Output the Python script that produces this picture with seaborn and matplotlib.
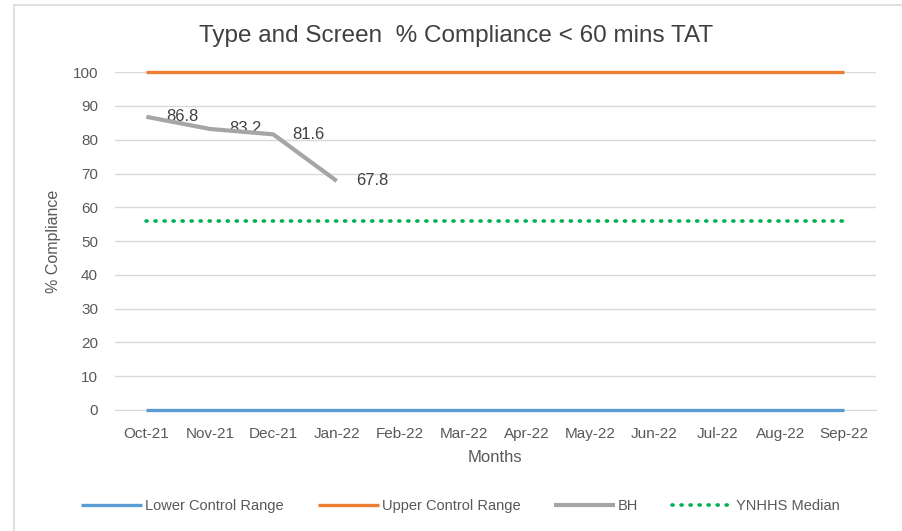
import numpy as np
import pandas as pd
import seaborn as sns
import matplotlib.pyplot as plt
from matplotlib.patches import Rectangle

months = ['Oct-21', 'Nov-21', 'Dec-21', 'Jan-22', 'Feb-22', 'Mar-22',
          'Apr-22', 'May-22', 'Jun-22', 'Jul-22', 'Aug-22', 'Sep-22']
lower_control = [0] * 12
upper_control = [100] * 12
bh = [86.8, 83.2, 81.6, 67.8] + [np.nan] * 8
ynhhs_median = [55.8] * 12

df = pd.DataFrame({
    'month': months,
    'pos': np.arange(len(months)),
    'Lower Control Range': lower_control,
    'Upper Control Range': upper_control,
    'BH': bh,
    'YNHHS Median': ynhhs_median,
})

sns.set_style("white")
plt.rcParams['font.family'] = ['Liberation Sans', 'DejaVu Sans']

fig = plt.figure(figsize=(9.03, 5.31), dpi=100)
ax = fig.add_axes([0.127, 0.228, 0.843, 0.636])

styles = {
    'Lower Control Range': dict(color='#5B9BD5', lw=2.4),
    'Upper Control Range': dict(color='#ED7D31', lw=2.4),
    'BH': dict(color='#A5A5A5', lw=3),
    'YNHHS Median': dict(color='#00B050', lw=2.6, linestyle=(0, (0.3, 2.2)),
                         dash_capstyle='round'),
}
for name, st in styles.items():
    sns.lineplot(data=df, x='pos', y=name, ax=ax, label=name, zorder=4,
                 clip_on=False, solid_capstyle='butt', **st)

# data labels for BH
for x, v in zip(df['pos'], df['BH']):
    if not np.isnan(v):
        ax.annotate(f'{v}', (x, v), xytext=(14, 0), textcoords='offset points',
                    va='center', ha='left', fontsize=12, color='#404040')

ax.set_xlim(-0.5, len(months) - 0.5)
ax.set_ylim(0, 100)
ax.set_yticks(range(0, 101, 10))
ax.set_xticks(df['pos'])
ax.set_xticklabels(months)
ax.set_xticks(np.arange(-0.5, len(months), 1), minor=True)
ax.tick_params(axis='x', which='minor', length=5, color='#D9D9D9', width=1)
ax.tick_params(axis='x', which='major', length=0, pad=12)
ax.tick_params(axis='y', length=0, pad=12)
ax.tick_params(labelsize=11, labelcolor='#595959')
ax.grid(axis='y', color='#D9D9D9', lw=1)
ax.set_axisbelow(True)
for s in ['top', 'right', 'left']:
    ax.spines[s].set_visible(False)
ax.spines['bottom'].set_color('#D9D9D9')
ax.spines['bottom'].set_zorder(1)

ax.set_xlabel('Months', fontsize=12, color='#595959', labelpad=7)
ax.set_ylabel('% Compliance', fontsize=11.5, color='#595959', labelpad=8)
fig.text(0.505, 0.933, 'Type and Screen  % Compliance < 60 mins TAT',
         ha='center', va='center', fontsize=17.5, color='#404040')

ax.get_legend().remove()
handles, labels = ax.get_legend_handles_labels()
fig.legend(handles, labels, loc='center', bbox_to_anchor=(0.51, 0.047), ncol=4,
           frameon=False, fontsize=10.5, labelcolor='#595959', handlelength=4.2,
           columnspacing=2.3, handletextpad=0.2)

fig.patches.append(Rectangle((0.016, -0.01), 0.99, 1.0, transform=fig.transFigure,
                             fill=False, edgecolor='#D9D9D9', lw=1.2))

fig.savefig('out.png', dpi=100)
